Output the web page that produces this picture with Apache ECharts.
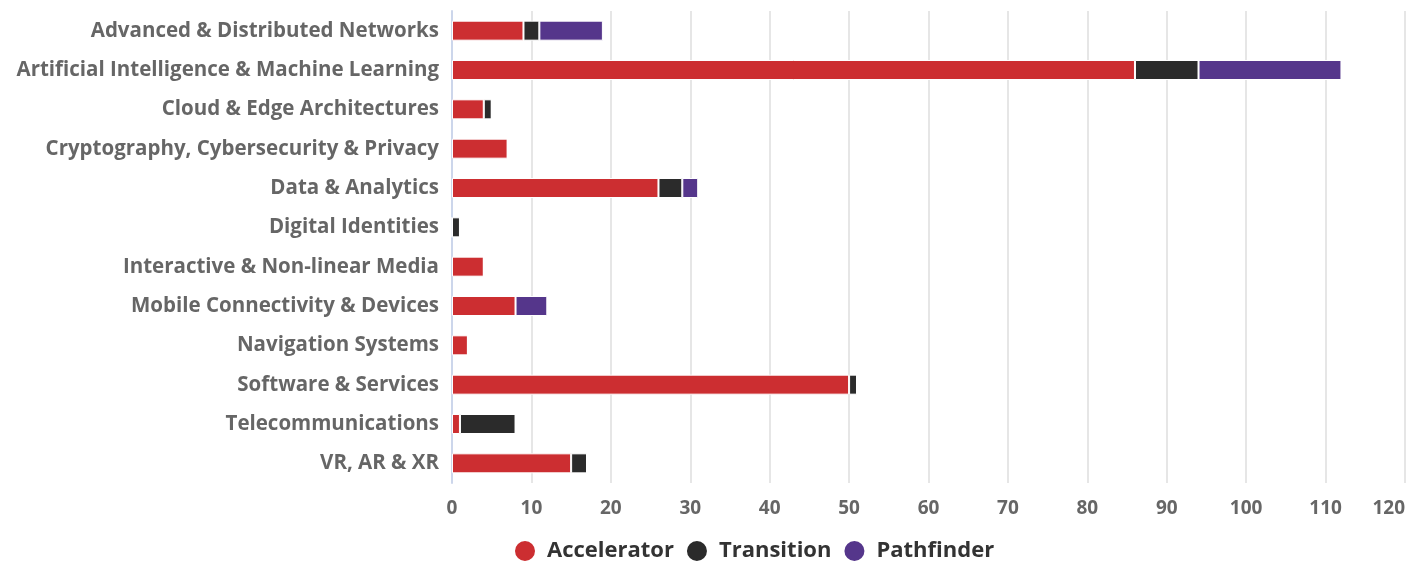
<!DOCTYPE html>
<html>
<head>
<meta charset="utf-8">
<script src="https://cdn.jsdelivr.net/npm/echarts@6/dist/echarts.min.js"></script>
<style>
  html, body { margin: 0; padding: 0; background: #fff; }
  #chart { width: 1408px; height: 562px; }
</style>
</head>
<body>
<div id="chart"></div>
<script>
var categories = [
  'Advanced & Distributed Networks',
  'Artificial Intelligence & Machine Learning',
  'Cloud & Edge Architectures',
  'Cryptography, Cybersecurity & Privacy',
  'Data & Analytics',
  'Digital Identities',
  'Interactive & Non-linear Media',
  'Mobile Connectivity & Devices',
  'Navigation Systems',
  'Software & Services',
  'Telecommunications',
  'VR, AR & XR'
];
var accelerator = [9, 86, 4, 7, 26, 0, 4, 8, 2, 50, 1, 15];
var transition  = [2, 8, 1, 0, 3, 1, 0, 0, 0, 1, 7, 2];
var pathfinder  = [8, 18, 0, 0, 2, 0, 0, 4, 0, 0, 0, 0];

var fontFamily = '"Open Sans", Lato, sans-serif';

function bar(name, data, color) {
  return {
    name: name,
    type: 'bar',
    stack: 'total',
    barWidth: 20,
    data: data,
    itemStyle: { color: color, borderColor: '#fff', borderWidth: 1 }
  };
}

var chart = echarts.init(document.getElementById('chart'));
chart.setOption({
  animation: false,
  textStyle: { fontFamily: fontFamily },
  grid: { left: 452, right: 1, top: 11, bottom: 79, containLabel: false },
  legend: {
    left: 508,
    top: 534,
    itemWidth: 34,
    itemHeight: 22,
    itemGap: 11,
    icon: 'circle',
    textStyle: { fontSize: 22, fontWeight: 'bold', color: '#333', fontFamily: fontFamily },
    data: ['Accelerator', 'Transition', 'Pathfinder']
  },
  xAxis: {
    type: 'value',
    min: 0,
    max: 120,
    interval: 10,
    axisLine: { show: false },
    axisTick: { show: false },
    splitLine: { lineStyle: { color: '#e6e6e6', width: 2 } },
    axisLabel: {
      fontSize: 19,
      fontWeight: 'bold',
      color: '#666',
      margin: 16,
      alignMaxLabel: 'right'
    }
  },
  yAxis: {
    type: 'category',
    inverse: true,
    data: categories,
    axisLine: { lineStyle: { color: '#ccd6eb', width: 2 } },
    axisTick: { show: false },
    axisLabel: {
      fontSize: 20.5,
      fontWeight: 'bold',
      color: '#666',
      margin: 13,
      padding: [4, 0, 0, 0]
    }
  },
  series: [
    bar('Accelerator', accelerator, '#cc2e31'),
    bar('Transition', transition, '#2b2b2b'),
    bar('Pathfinder', pathfinder, '#55368b')
  ]
});
</script>
</body>
</html>
